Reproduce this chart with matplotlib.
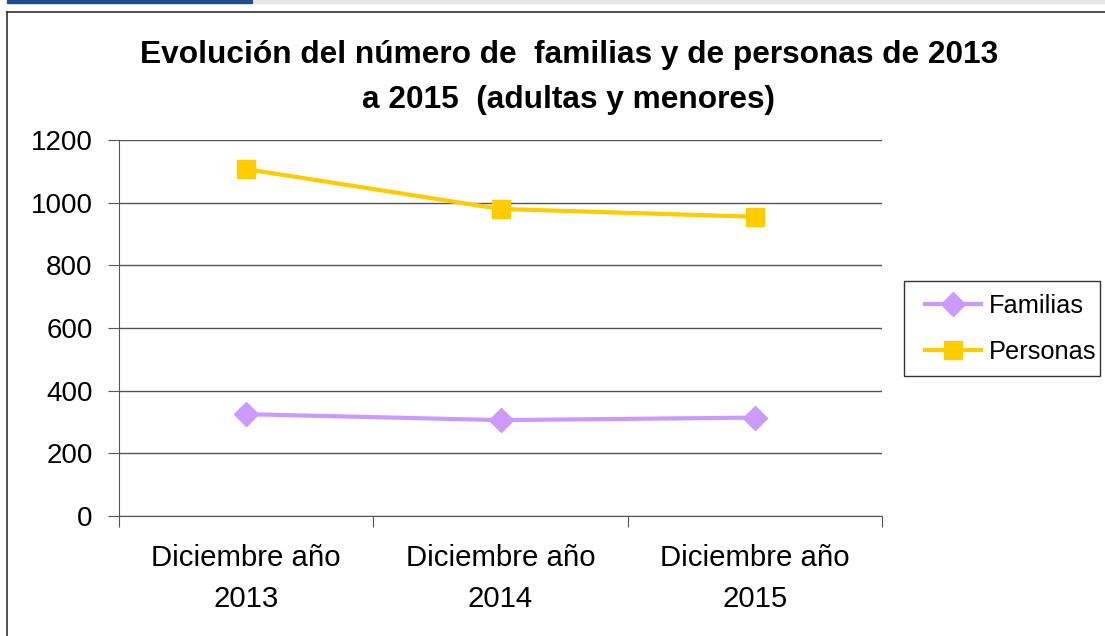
import matplotlib.pyplot as plt
from matplotlib.patches import Rectangle
from matplotlib.lines import Line2D

plt.rcParams['font.family'] = ['Liberation Sans', 'DejaVu Sans']

# data
categorias = ['Diciembre año\n2013', 'Diciembre año\n2014', 'Diciembre año\n2015']
familias = [325, 306, 314]
personas = [1107, 980, 955]
y_ticks = [0, 200, 400, 600, 800, 1000, 1200]

fig = plt.figure(figsize=(11.05, 6.36), dpi=100)
W, H = 1105, 636

# page decoration at the top and the chart frame
fig.patches.append(Rectangle((7 / W, 1 - 2.5 / H), 245 / W, 2.5 / H, transform=fig.transFigure,
                             color='#1f4e8c', zorder=0))
fig.patches.append(Rectangle((254 / W, 1 - 2.5 / H), (W - 254) / W, 2.5 / H, transform=fig.transFigure,
                             color='#e6e6e6', zorder=0))
fig.lines.append(Line2D([7 / W, 1], [1 - 12 / H, 1 - 12 / H], transform=fig.transFigure,
                        color='#333333', lw=1.2))
fig.lines.append(Line2D([7 / W, 7 / W], [0, 1 - 12 / H], transform=fig.transFigure,
                        color='#333333', lw=1.2))

ax = fig.add_axes([119 / W, 1 - 516 / H, (882 - 119) / W, (516 - 140) / H])

x = range(len(categorias))
ax.plot(x, familias, color='#cc99ff', lw=3, marker='D', markersize=12, label='Familias')
ax.plot(x, personas, color='#ffcc00', lw=3, marker='s', markersize=12.5, label='Personas')

ax.set_xlim(-0.5, len(categorias) - 0.5)
ax.set_ylim(0, 1200)
ax.set_yticks(y_ticks)
ax.set_yticklabels([str(v) for v in y_ticks], fontsize=20)
ax.set_xticks([i - 0.5 for i in range(len(categorias) + 1)])
ax.set_xticklabels([])
ax.set_xticks(list(x), minor=True)
ax.set_xticklabels(categorias, minor=True, fontsize=21.2, linespacing=1.55)
ax.tick_params(axis='x', which='minor', length=0, pad=20.5)
ax.tick_params(axis='x', which='major', direction='out', length=8, color='#555555')
ax.tick_params(axis='y', direction='out', length=8, color='#555555', pad=11)

ax.grid(axis='y', color='#555555', lw=1)
ax.set_axisbelow(True)
for s in ['top', 'right']:
    ax.spines[s].set_visible(False)
for s in ['left', 'bottom']:
    ax.spines[s].set_color('#555555')

fig.text(569 / W, 1 - 77.5 / H, 'Evolución del número de  familias y de personas de 2013\na 2015  (adultas y menores)',
         ha='center', va='center', fontsize=22.8, fontweight='bold', linespacing=1.65)

# legend: entries without frame, frame drawn as its own box underneath
fig.patches.append(Rectangle((904 / W, 1 - 376 / H), 196 / W, 95 / H, transform=fig.transFigure,
                             facecolor='white', edgecolor='#333333', lw=1, zorder=2))
handles, labels = ax.get_legend_handles_labels()
leg = fig.legend(handles, labels, loc='center left', bbox_to_anchor=(925 / W, 1 - 329 / H),
                 fontsize=18.3, frameon=False, handlelength=2.2, borderpad=0,
                 labelspacing=0.85, handletextpad=0.3, borderaxespad=0)
leg.set_zorder(5)

fig.savefig('out.png', dpi=100)
